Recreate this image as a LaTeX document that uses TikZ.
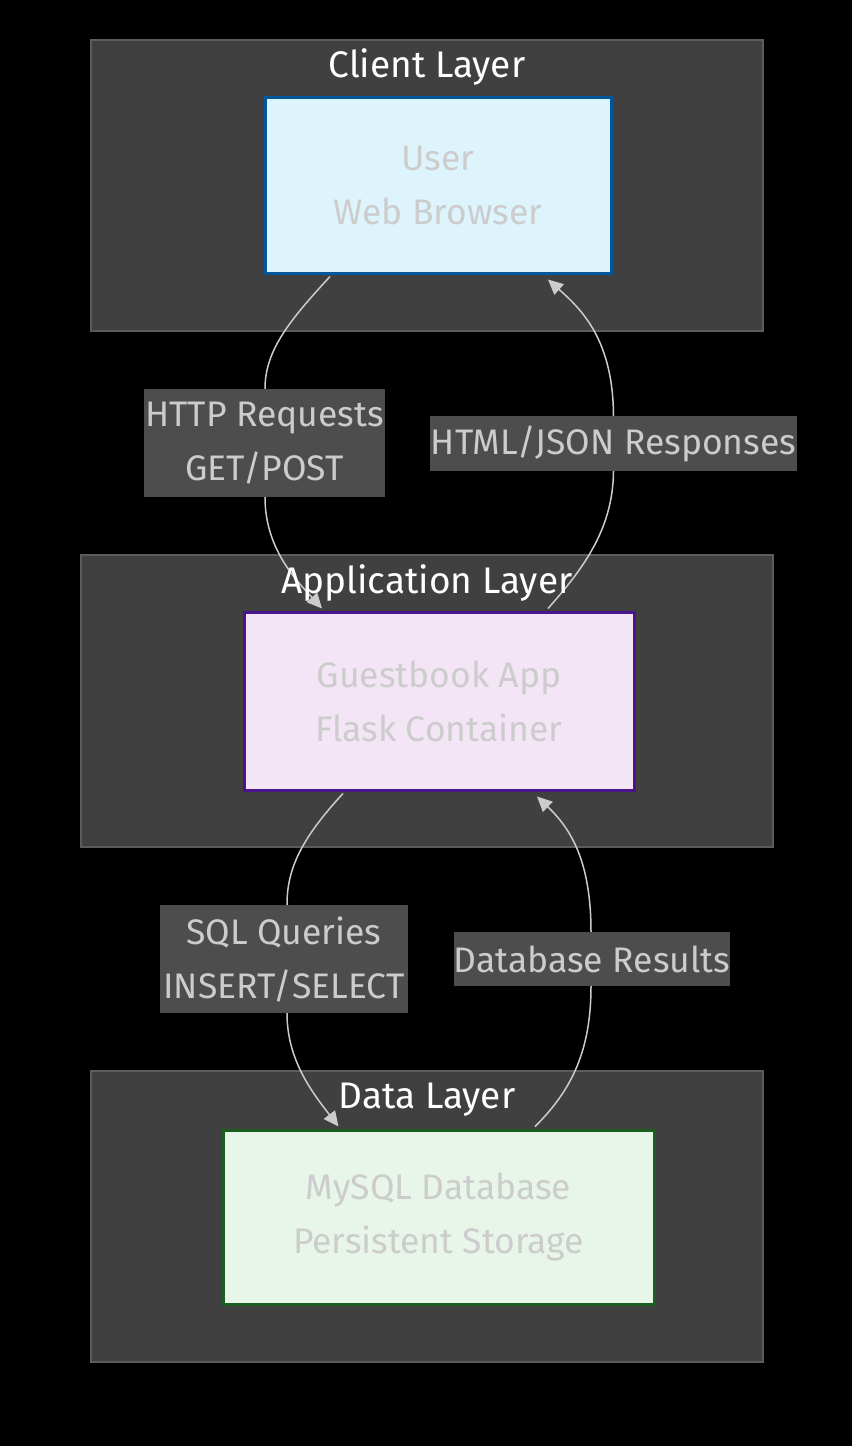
\documentclass[tikz,border=0pt]{standalone}
\usepackage{fontspec}
\setmainfont{Fira Sans}
\usetikzlibrary{arrows.meta,calc}
\definecolor{clfill}{HTML}{404040}
\definecolor{cldraw}{HTML}{5C5C5C}
\definecolor{lblfill}{HTML}{4D4D4D}
\definecolor{txtgray}{HTML}{CCCCCC}
\definecolor{ufill}{HTML}{DDF4FD}
\definecolor{udraw}{HTML}{01579B}
\definecolor{gfill}{HTML}{F3E5F5}
\definecolor{gdraw}{HTML}{4A148C}
\definecolor{mfill}{HTML}{E8F5E9}
\definecolor{mdraw}{HTML}{1B5E20}
\begin{document}
\begin{tikzpicture}[x=1pt,y=-1pt,
  cluster/.style={draw=cldraw,fill=clfill,line width=2pt,minimum width=#1,inner sep=0pt},
  svc/.style={line width=3pt,inner sep=0pt,text=txtgray,font=\fontsize{35.5}{54}\selectfont,align=center},
  lbl/.style={fill=lblfill,inner sep=0pt,text=txtgray,font=\fontsize{35.5}{54}\selectfont,align=center},
  slot/.style={inner sep=0pt},
  ttl/.style={text=white,font=\fontsize{37}{40}\selectfont,inner sep=0pt},
  edge/.style={draw=txtgray,line width=1.5pt},
  arr/.style={edge,-{Triangle[length=15pt,width=14pt]}}]
\fill[black] (0,0) rectangle (852,1446);
\useasboundingbox (0,0) rectangle (852,1446);
% clusters
\node[cluster=672pt,minimum height=291pt] (client) at (427,185.5) {};
\node[cluster=692pt,minimum height=292pt] (app) at (427,701) {};
\node[cluster=672pt,minimum height=291pt] (data) at (427,1216.5) {};
% label slots (positions only)
\node[slot,minimum width=241pt,minimum height=108pt] (http) at (264.5,443) {};
\node[slot,minimum width=367pt,minimum height=55pt] (html) at (613.5,443.5) {};
\node[slot,minimum width=248pt,minimum height=108pt] (sql) at (284,959) {};
\node[slot,minimum width=272pt,minimum height=54pt] (dbr) at (592,959) {};
% service nodes
\node[svc,draw=udraw,fill=ufill,minimum width=346pt,minimum height=176pt] (user) at (438,185) {User\\Web Browser};
\node[svc,draw=gdraw,fill=gfill,minimum width=390pt,minimum height=178pt] (guest) at (439,701) {Guestbook App\\Flask Container};
\node[svc,draw=mdraw,fill=mfill,minimum width=431pt,minimum height=174pt] (mysql) at (438.5,1217) {MySQL Database\\Persistent Storage};
% edges
\draw[arr] ($(user.south)+(-108,2)$) .. controls (290,320) and (265,350) .. (http.north -| 265,0) -- (http.south -| 265,0) .. controls (265,550) and (298,582) .. ($(guest.north)+(-117,-2)$);
\draw[arr] ($(guest.north)+(109,-2)$) .. controls (582,570) and (613,530) .. (html.south) -- (html.north) .. controls (613,340) and (582,310) .. ($(user.south)+(110,5)$);
\draw[arr] ($(guest.south)+(-96,2)$) .. controls (300,840) and (287,870) .. (sql.north -| 287,0) -- (sql.south -| 287,0) .. controls (287,1060) and (312,1092) .. ($(mysql.north)+(-100,-2)$);
\draw[arr] ($(mysql.north)+(96.5,-2)$) .. controls (572,1090) and (591,1050) .. (dbr.south -| 591,0) -- (dbr.north -| 591,0) .. controls (591,860) and (570,828) .. ($(guest.south)+(98,5)$);
% labels on top
\node[lbl,minimum width=241pt,minimum height=108pt] (httpt) at (http) {HTTP Requests\\GET/POST};
\node[lbl,minimum width=367pt,minimum height=55pt] (htmlt) at (html) {HTML/JSON Responses};
\node[lbl,minimum width=248pt,minimum height=108pt] (sqlt) at (sql) {SQL Queries\\INSERT/SELECT};
\node[lbl,minimum width=272pt,minimum height=54pt] (dbrt) at (dbr) {Database Results};
% titles
\node[ttl] (tclient) at (427,67.5) {Client Layer};
\node[ttl] (tapp) at (427,583.5) {Application Layer};
\node[ttl] (tdata) at (427,1099.5) {Data Layer};
\end{tikzpicture}
\end{document}
